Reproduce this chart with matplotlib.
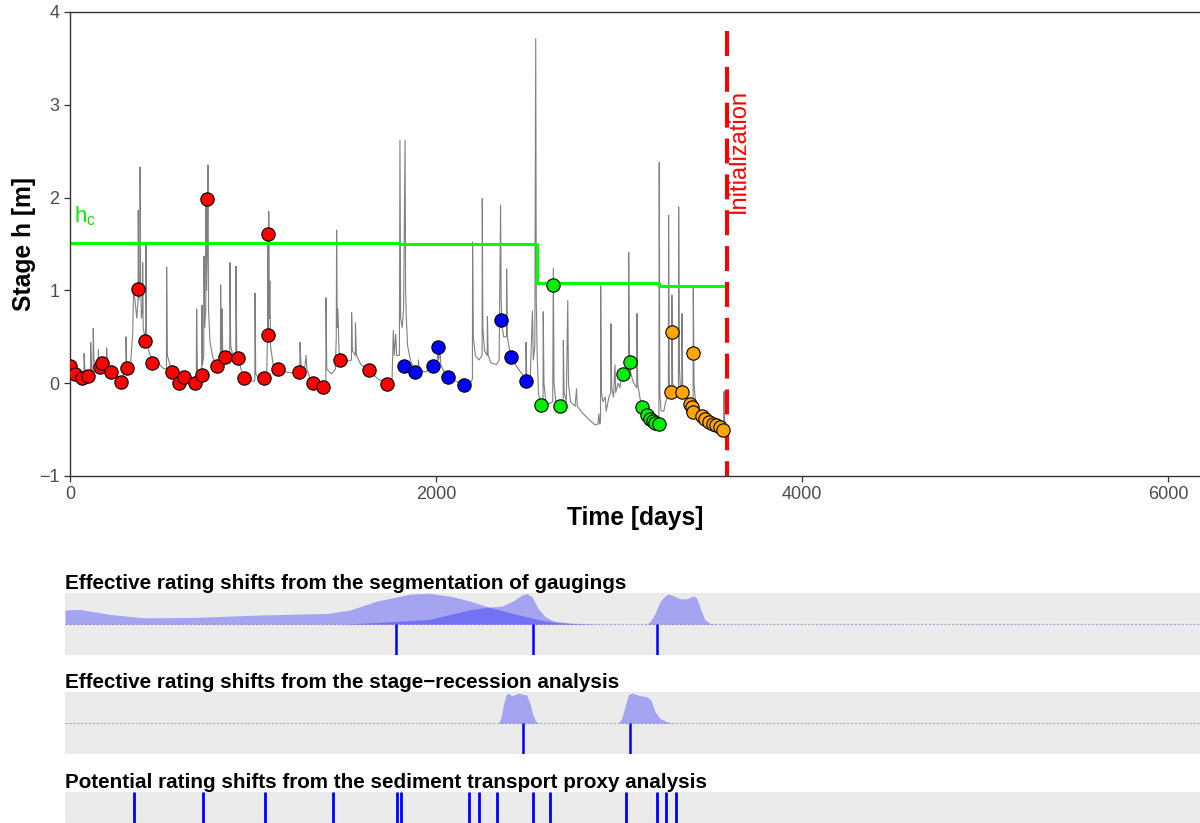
import matplotlib
matplotlib.use('Agg')
import matplotlib.pyplot as plt

plt.rcParams['font.family'] = ['Liberation Sans', 'DejaVu Sans']

# ---- stage record (day, stage in m) ----
hyd = [
    (0, 0.15), (20, 0.12), (45, 0.07), (70, 0.08), (76, 0.08), (77, 0.32), (82, 0.12), (100, 0.08),
    (112, 0.10), (113, 0.44), (118, 0.15), (126, 0.12), (127, 0.59), (131, 0.25), (150, 0.18),
    (154, 0.20), (155, 0.36), (160, 0.20), (178, 0.22), (199, 0.20), (200, 0.38), (205, 0.18),
    (225, 0.12), (250, 0.10), (277, 0.03), (295, 0.10), (305, 0.14), (306, 0.50), (310, 0.20),
    (330, 0.18), (343, 0.55), (347, 0.98), (355, 0.90), (365, 0.70), (372, 0.90), (373, 1.86),
    (376, 0.90), (382, 1.00), (383, 2.33), (386, 1.10), (390, 0.70), (396, 0.80), (397, 1.30),
    (400, 0.60), (410, 0.48), (414, 0.60), (415, 1.49), (418, 0.55), (430, 0.35), (448, 0.24),
    (470, 0.26), (490, 0.20), (510, 0.16), (527, 0.15), (528, 1.25), (532, 0.30), (556, 0.13),
    (580, 0.06), (596, 0.01), (615, 0.05), (630, 0.07), (650, 0.04), (683, 0.00), (690, 0.05),
    (692, 0.80), (696, 0.15), (720, 0.10), (721, 0.84), (724, 0.20), (731, 0.30), (732, 1.37),
    (736, 0.60), (742, 0.80), (743, 1.97), (746, 1.00), (750, 1.40), (754, 2.35), (757, 0.80),
    (765, 0.45), (780, 0.28), (801, 0.19), (815, 0.20), (822, 0.22), (823, 1.06), (827, 0.35),
    (830, 0.30), (831, 0.80), (835, 0.30), (845, 0.28), (865, 0.30), (873, 0.32), (874, 1.30),
    (878, 0.40), (890, 0.30), (906, 0.28), (907, 1.26), (911, 0.35), (918, 0.28), (935, 0.15),
    (949, 0.06), (980, 0.03), (1005, 0.02), (1010, 0.04), (1011, 0.97), (1015, 0.10), (1040, 0.03),
    (1058, 0.06), (1075, 0.10), (1079, 0.50), (1082, 1.55), (1084, 0.60), (1086, 1.85), (1089, 0.70),
    (1092, 1.10), (1096, 0.40), (1110, 0.20), (1138, 0.15), (1180, 0.12), (1220, 0.11), (1251, 0.12),
    (1256, 0.12), (1257, 0.44), (1262, 0.20), (1280, 0.12), (1290, 0.30), (1295, 0.15), (1321, 0.00),
    (1350, 0.02), (1384, -0.03), (1398, 0.00), (1399, 0.92), (1403, 0.15), (1430, 0.10), (1450, 0.15),
    (1455, 0.50), (1457, 1.65), (1460, 0.60), (1464, 0.80), (1470, 0.35), (1475, 0.26), (1500, 0.22),
    (1520, 0.24), (1538, 0.25), (1539, 0.76), (1543, 0.35), (1559, 0.30), (1560, 0.65), (1565, 0.30),
    (1590, 0.20), (1634, 0.14), (1680, 0.05), (1732, -0.01), (1760, 0.05), (1767, 0.57), (1772, 0.30),
    (1780, 0.53), (1785, 0.30), (1800, 0.30), (1803, 2.62), (1807, 0.70), (1815, 0.60), (1823, 0.80),
    (1831, 2.62), (1834, 1.00), (1838, 0.70), (1845, 0.40), (1860, 0.25), (1885, 0.13), (1903, 0.15),
    (1904, 0.25), (1908, 0.15), (1940, 0.12), (1985, 0.17), (2005, 0.20), (2011, 0.39), (2015, 0.25),
    (2022, 0.39), (2026, 0.20), (2050, 0.10), (2067, 0.07), (2110, 0.02), (2151, -0.02), (2190, 0.00),
    (2199, 0.05), (2200, 1.52), (2204, 0.50), (2215, 0.30), (2235, 0.25), (2252, 0.30), (2253, 1.99),
    (2256, 0.60), (2265, 0.35), (2280, 0.30), (2281, 0.72), (2285, 0.30), (2300, 0.22), (2330, 0.20),
    (2345, 0.25), (2353, 1.92), (2356, 0.90), (2362, 0.60), (2370, 0.50), (2385, 0.50), (2386, 1.23),
    (2390, 0.50), (2408, 0.28), (2440, 0.18), (2470, 0.10), (2491, 0.05), (2492, 0.44), (2496, 0.05),
    (2515, 0.05), (2527, 0.78), (2532, 0.25), (2540, 0.40), (2545, 3.71), (2548, 0.90), (2553, 0.30),
    (2560, -0.10), (2568, -0.20), (2572, -0.24), (2585, -0.20), (2586, 0.77), (2590, 0.00),
    (2600, -0.20), (2620, -0.22), (2638, -0.20), (2641, 1.24), (2645, 0.00), (2655, -0.20),
    (2676, -0.25), (2695, -0.20), (2696, 0.46), (2700, -0.10), (2712, -0.20), (2720, 0.89),
    (2724, 0.00), (2735, -0.20), (2760, -0.25), (2768, -0.06), (2772, -0.25), (2800, -0.32),
    (2840, -0.40), (2870, -0.45), (2885, -0.44), (2890, -0.33), (2895, -0.44), (2899, -0.40),
    (2900, 1.05), (2904, -0.10), (2912, -0.20), (2925, -0.15), (2930, -0.30), (2945, -0.15),
    (2955, -0.10), (2956, 0.64), (2960, -0.05), (2970, -0.15), (2978, 0.20), (2982, -0.10),
    (2995, 0.00), (3005, -0.05), (3015, 0.10), (3022, 0.10), (3030, 0.05), (3040, 0.20), (3052, 0.20),
    (3053, 1.41), (3057, 0.25), (3065, 0.10), (3080, 0.00), (3097, -0.05), (3098, 0.75), (3102, 0.00),
    (3122, -0.25), (3150, -0.34), (3188, -0.42), (3210, -0.45), (3218, -0.42), (3220, 2.38),
    (3223, -0.10), (3230, -0.30), (3245, -0.30), (3255, -0.20), (3265, -0.15), (3270, -0.10),
    (3271, 1.81), (3275, 0.00), (3282, -0.10), (3288, -0.05), (3289, 0.95), (3293, 0.00), (3310, -0.10),
    (3325, -0.10), (3326, 1.90), (3330, 0.20), (3335, -0.05), (3343, -0.10), (3344, 0.75), (3348, -0.05),
    (3370, -0.15), (3390, -0.22), (3405, -0.20), (3406, 1.04), (3410, 0.00), (3420, -0.25),
    (3452, -0.35), (3488, -0.41), (3525, -0.45), (3566, -0.50), (3572, -0.50), (3574, -0.09),
    (3578, -0.45), (3590, -0.50),
]
hyd_day = [d for d, h in hyd]
hyd_h = [h for d, h in hyd]

# ---- gaugings, one list per stable period ----
g1_day = [0, 27, 64, 100, 164, 177, 224, 277, 310, 373, 410, 448, 556, 596, 625, 683, 720, 747,
          801, 845, 918, 949, 1058, 1084, 1082, 1138, 1251, 1327, 1384, 1475, 1634, 1732]
g1_h = [0.18, 0.10, 0.06, 0.08, 0.17, 0.22, 0.12, 0.01, 0.16, 1.02, 0.46, 0.22, 0.12, 0.00, 0.07,
        0.00, 0.09, 1.98, 0.18, 0.28, 0.27, 0.06, 0.06, 1.61, 0.52, 0.15, 0.12, 0.00, -0.04, 0.25,
        0.14, -0.01]
g2_day = [1825, 1885, 1985, 2011, 2067, 2151, 2355, 2408, 2494]
g2_h = [0.19, 0.12, 0.18, 0.39, 0.07, -0.02, 0.68, 0.28, 0.02]
g3_day = [2572, 2641, 2676, 3022, 3058, 3124, 3155, 3169, 3186, 3199, 3217]
g3_h = [-0.24, 1.06, -0.25, 0.10, 0.23, -0.255, -0.345, -0.385, -0.41, -0.425, -0.44]
g4_day = [3290, 3282, 3342, 3406, 3388, 3397, 3402, 3455, 3472, 3492, 3512, 3531, 3550, 3570]
g4_h = [0.55, -0.10, -0.10, 0.33, -0.22, -0.26, -0.31, -0.35, -0.39, -0.415, -0.437, -0.455,
        -0.475, -0.505]
period_colors = ['#ff0000', '#0000ff', '#00ee00', '#ffa500']

# critical stage h_c per period
hc_day = [0, 1803, 2552, 3219, 3590]
hc_val = [1.51, 1.50, 1.085, 1.05, 1.05]

t_init = 3590

# ---- shift panels ----
titles = ['Effective rating shifts from the segmentation of gaugings',
          'Effective rating shifts from the stage\u2212recession analysis',
          'Potential rating shifts from the sediment transport proxy analysis']

# posterior densities of shift times (day, relative height)
dens_seg = [
    ([0, 82, 246, 426, 699, 1066, 1432, 1557, 1704, 1885, 1984, 2104, 2213, 2306, 2448, 2596, 2689,
      2780, 2869],
     [0.45, 0.47, 0.31, 0.20, 0.21, 0.29, 0.34, 0.45, 0.74, 0.96, 0.99, 0.90, 0.74, 0.56, 0.34,
      0.13, 0.04, 0.015, 0.0]),
    ([1500, 1612, 1800, 1995, 2104, 2213, 2306, 2388, 2448, 2497, 2525, 2552, 2585, 2623, 2667,
      2760, 2869, 2950],
     [0.0, 0.02, 0.08, 0.15, 0.31, 0.46, 0.54, 0.58, 0.74, 0.94, 0.98, 0.88, 0.50, 0.24, 0.10,
      0.03, 0.01, 0.0]),
    ([3178, 3197, 3224, 3251, 3279, 3297, 3325, 3361, 3397, 3434, 3452, 3479, 3497, 3525, 3561],
     [0.0, 0.08, 0.34, 0.72, 0.91, 0.97, 0.91, 0.81, 0.81, 0.91, 0.83, 0.40, 0.13, 0.02, 0.0]),
]
dens_rec = [
    ([2368, 2381, 2395, 2410, 2421, 2441, 2459, 2477, 2523, 2541, 2556, 2574, 2590],
     [0.0, 0.15, 0.58, 0.90, 0.97, 0.88, 0.92, 0.96, 0.90, 0.63, 0.26, 0.04, 0.0]),
    ([3024, 3042, 3060, 3078, 3097, 3142, 3178, 3202, 3224, 3251, 3288, 3324],
     [0.0, 0.15, 0.53, 0.90, 0.97, 0.88, 0.85, 0.74, 0.37, 0.15, 0.04, 0.0]),
]
shifts_seg = [1811, 2557, 3233]
shifts_rec = [2503, 3089]
shifts_sed = [377, 752, 1091, 1463, 1813, 1838, 2209, 2262, 2362, 2556, 2652, 3067, 3233, 3286, 3341]

W, H = 1200, 823


def box(x0, y0, x1, y1):
    return [x0 / W, 1 - y1 / H, (x1 - x0) / W, (y1 - y0) / H]


fig = plt.figure(figsize=(12, 8.23), dpi=100)

# ---- main stage plot ----
ax = fig.add_axes(box(70, 12, 1200, 476))
ax.plot(hyd_day, hyd_h, color='#808080', lw=0.8, zorder=1)
ax.step(hc_day, hc_val, where='post', color='#00ff00', lw=2.2, zorder=2)
ax.plot([t_init, t_init], [3.8, -1], color='#ff0000', lw=2.9, dashes=(6.2, 2.7), zorder=3)

for days, hs, col in zip([g1_day, g2_day, g3_day, g4_day], [g1_h, g2_h, g3_h, g4_h], period_colors):
    ax.scatter(days, hs, s=92, c=col, edgecolors='black', linewidths=0.8, zorder=4)

ax.text(20, 1.73, r'$\mathregular{h_c}$', color='#00ee00', fontsize=16, ha='left', va='baseline')
ax.text(3656, 2.5, 'Initialization', color='#ff0000', fontsize=17, rotation=90,
        ha='center', va='center')

ax.set_xlim(0, 6175)
ax.set_ylim(-1, 4)
ax.set_xticks([0, 2000, 4000, 6000])
ax.set_yticks([-1, 0, 1, 2, 3, 4])
ax.spines['right'].set_visible(False)
for s in ['left', 'bottom', 'top']:
    ax.spines[s].set_color('#333333')
    ax.spines[s].set_linewidth(1.0)
ax.tick_params(colors='#333333', labelcolor='#4d4d4d', labelsize=13, length=4, width=0.9)
ax.set_xlabel('Time [days]', fontsize=17.7, fontweight='bold', labelpad=2)
ax.set_ylabel('Stage h [m]', fontsize=17.7, fontweight='bold', labelpad=2)

# ---- shift panels ----
panel_tops = [593, 692, 792]
for k, top in enumerate(panel_tops):
    pax = fig.add_axes(box(65, top, 1200, top + 62))
    pax.set_facecolor('#ebebeb')
    pax.set_xlim(0, 6202)
    pax.set_ylim(-1, 1)
    for s in pax.spines.values():
        s.set_visible(False)
    pax.set_xticks([])
    pax.set_yticks([])
    pax.axhline(0, color='#a8a8c8', lw=0.8, ls=(0, (2, 1.5)), zorder=1)
    if k == 0:
        for dd, dh in dens_seg:
            pax.fill_between(dd, 0, dh, color='blue', alpha=0.3, lw=0, zorder=2)
        pax.vlines(shifts_seg, -1, 0, color='blue', lw=1.8, zorder=3)
    elif k == 1:
        for dd, dh in dens_rec:
            pax.fill_between(dd, 0, dh, color='blue', alpha=0.3, lw=0, zorder=2)
        pax.vlines(shifts_rec, -1, 0, color='blue', lw=1.8, zorder=3)
    else:
        pax.vlines(shifts_sed, -1, 1, color='blue', lw=2.0, zorder=3)
    pax.set_title(titles[k], loc='left', fontsize=14.9, fontweight='bold', pad=3)

fig.savefig('out.png', dpi=100)
